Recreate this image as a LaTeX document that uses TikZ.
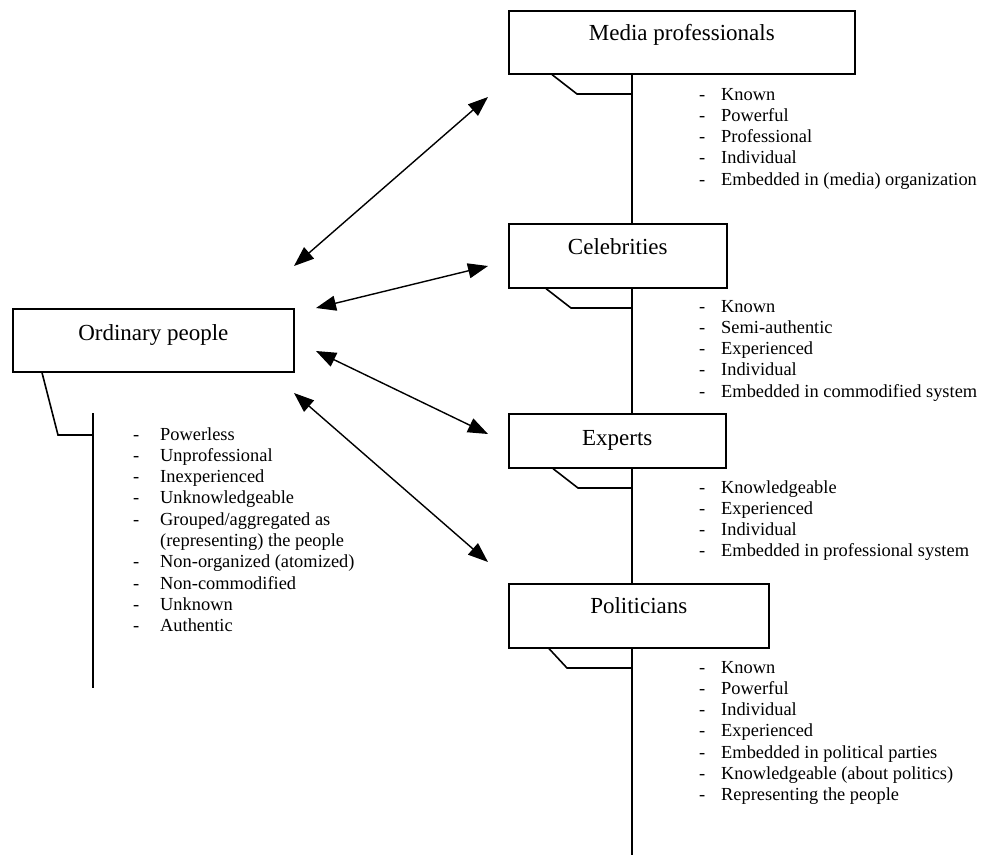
\documentclass[tikz,border=0pt]{standalone}
\usepackage{fontspec}
\setmainfont{Liberation Serif}
\usetikzlibrary{arrows.meta,calc}

\tikzset{
  box/.style={draw, fill=white, line width=1.6pt, rectangle, inner sep=0pt, anchor=north west},
  boxtitle/.style={inner sep=0pt, anchor=base, font=\fontsize{23}{27}\selectfont},
  traits/.style={inner sep=0pt, anchor=base west, font=\fontsize{18.4}{21.3}\selectfont},
  spine/.style={line width=1.6pt},
  link/.style={line width=1.4pt, {Triangle[length=20pt,width=15pt]}-{Triangle[length=20pt,width=15pt]}},
}

% dash-led list: first column holds the dash, second the trait
\newcommand{\traitlist}[2]{\begin{tabular}[t]{@{}p{#1}@{}l@{}}#2\end{tabular}}

\begin{document}
\begin{tikzpicture}[x=1pt,y=-1pt]
\useasboundingbox (0,0) rectangle (984,855);

% ---- right-hand spine: the four actor groups
\coordinate (sx) at (632,0);
\coordinate (sbottom) at (632,855);

\draw[spine] (632,73) -- (sbottom);

\node[box, minimum width=346pt, minimum height=63pt] (mp) at (508,10) {};
\node[boxtitle] (mpt) at ($(mp.north)+(0,30)$) {Media professionals};

\node[box, minimum width=218pt, minimum height=64pt] (cel) at (508,223) {};
\node[boxtitle] (celt) at ($(cel.north)+(0,31)$) {Celebrities};

\node[box, minimum width=217pt, minimum height=54pt] (exp) at (508,413) {};
\node[boxtitle] (expt) at ($(exp.north)+(0,32)$) {Experts};

\node[box, minimum width=260pt, minimum height=64pt] (pol) at (508,583) {};
\node[boxtitle] (polt) at ($(pol.north)+(0,30)$) {Politicians};

% brackets from each box to the spine
\draw[spine] (mp.south west -| 552,0) -- (577,94) -- (sx |- 0,94);
\draw[spine] (cel.south west -| 546,0) -- (571,308) -- (sx |- 0,308);
\draw[spine] (exp.south west -| 553,0) -- (578,488) -- (sx |- 0,488);
\draw[spine] (pol.south west -| 549,0) -- (567,668) -- (sx |- 0,668);

% trait lists
\node[traits] (mpl) at (699,100) {\traitlist{22pt}{%
  -&Known\\ -&Powerful\\ -&Professional\\ -&Individual\\ -&Embedded in (media) organization}};
\node[traits] (cell) at (699,312) {\traitlist{22pt}{%
  -&Known\\ -&Semi-authentic\\ -&Experienced\\ -&Individual\\ -&Embedded in commodified system}};
\node[traits] (expl) at (699,493) {\traitlist{22pt}{%
  -&Knowledgeable\\ -&Experienced\\ -&Individual\\ -&Embedded in professional system}};
\node[traits] (poll) at (699,673) {\traitlist{22pt}{%
  -&Known\\ -&Powerful\\ -&Individual\\ -&Experienced\\ -&Embedded in political parties\\
  -&Knowledgeable (about politics)\\ -&Representing the people}};

% ---- ordinary people
\node[box, minimum width=281pt, minimum height=63pt] (op) at (12,308) {};
\node[boxtitle] (opt) at ($(op.north)+(0,32)$) {Ordinary people};

\draw[spine] (93,413) -- (93,688);
\draw[spine] (op.south west -| 42,0) -- (58,435) -- (93,435);

\node[traits] (opl) at (133,440) {\traitlist{27pt}{%
  -&Powerless\\ -&Unprofessional\\ -&Inexperienced\\ -&Unknowledgeable\\
  -&Grouped/aggregated as\\ &(representing) the people\\ -&Non-organized (atomized)\\
  -&Non-commodified\\ -&Unknown\\ -&Authentic}};

% ---- two-way links between ordinary people and each group
\coordinate (o1) at (294,266);  \coordinate (m1) at (488,97);
\coordinate (o2) at (316,308);  \coordinate (m2) at (488,266);
\coordinate (o3) at (316,351);  \coordinate (m3) at (488,434);
\coordinate (o4) at (294,393);  \coordinate (m4) at (488,562);

\draw[link] (o1) -- (m1);
\draw[link] (o2) -- (m2);
\draw[link] (o3) -- (m3);
\draw[link] (o4) -- (m4);

\end{tikzpicture}
\end{document}
